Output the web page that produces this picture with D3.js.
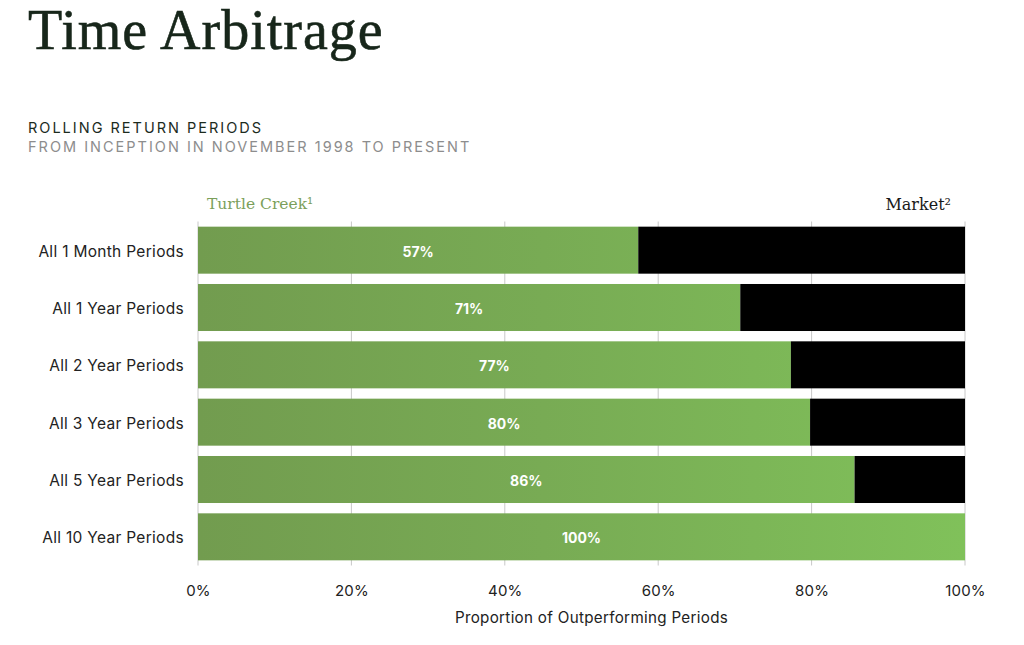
<!DOCTYPE html>
<html>
<head>
<meta charset="utf-8">
<script src="https://cdn.jsdelivr.net/npm/d3@7"></script>
<style>
  html, body { margin: 0; padding: 0; background: #fff; }
  svg { display: block; }
</style>
</head>
<body>
<svg id="chart" width="1024" height="645"></svg>
<script>
const categories = ["All 1 Month Periods", "All 1 Year Periods", "All 2 Year Periods", "All 3 Year Periods", "All 5 Year Periods", "All 10 Year Periods"];
const turtleCreek = [57.4, 70.7, 77.3, 79.8, 85.6, 100];
const market = turtleCreek.map(v => 100 - v);
const xTicks = [0, 20, 40, 60, 80, 100];

const svg = d3.select("#chart");
const margin = { left: 198, right: 1024 - 965, top: 221.5, bottom: 645 - 565.5 };

const x = d3.scaleLinear().domain([0, 100]).range([margin.left, 1024 - margin.right]);
const y = d3.scaleBand().domain(categories).range([margin.top, 645 - margin.bottom]).paddingInner(0.18).paddingOuter(0.09);

const defs = svg.append("defs");
const grad = defs.append("linearGradient").attr("id", "greenGrad")
  .attr("gradientUnits", "userSpaceOnUse")
  .attr("x1", x(0)).attr("x2", x(100)).attr("y1", 0).attr("y2", 0);
grad.append("stop").attr("offset", "0%").attr("stop-color", "#729c4f");
grad.append("stop").attr("offset", "45%").attr("stop-color", "#78ab54");
grad.append("stop").attr("offset", "100%").attr("stop-color", "#80c15a");

// Title
svg.append("text").attr("x", 28).attr("y", 49)
  .attr("font-family", "'Liberation Serif', serif").attr("font-size", 56).attr("letter-spacing", 1)
  .attr("fill", "#17261a").attr("stroke", "#17261a").attr("stroke-width", 0.6)
  .text("Time Arbitrage");

svg.append("text").attr("x", 28).attr("y", 133)
  .attr("font-family", "Inter, sans-serif").attr("font-size", 14.5).attr("letter-spacing", 2.0)
  .attr("fill", "#1c2b1e").text("ROLLING RETURN PERIODS");
svg.append("text").attr("x", 28).attr("y", 152)
  .attr("font-family", "Inter, sans-serif").attr("font-size", 14.5).attr("letter-spacing", 2.0)
  .attr("fill", "#8d8d8d").text("FROM INCEPTION IN NOVEMBER 1998 TO PRESENT");

// Series labels
svg.append("text").attr("x", 207).attr("y", 209)
  .attr("font-family", "'DejaVu Serif', serif").attr("font-size", 15.5)
  .attr("fill", "#7b9f5b").text("Turtle Creek\u00B9");
svg.append("text").attr("x", 951).attr("y", 210).attr("text-anchor", "end")
  .attr("font-family", "'DejaVu Serif', serif").attr("font-size", 16)
  .attr("fill", "#1a1a1a").text("Market\u00B2");

// Gridlines
svg.append("g").selectAll("line").data(xTicks).join("line")
  .attr("x1", d => x(d)).attr("x2", d => x(d))
  .attr("y1", margin.top).attr("y2", 645 - margin.bottom)
  .attr("stroke", "#c8c8c8").attr("stroke-width", 1);

// Bars
const rows = svg.append("g").selectAll("g").data(categories).join("g");
rows.append("rect")
  .attr("x", x(0)).attr("y", d => y(d))
  .attr("width", (d, i) => x(turtleCreek[i]) - x(0))
  .attr("height", y.bandwidth())
  .attr("fill", "url(#greenGrad)");
rows.append("rect")
  .attr("x", (d, i) => x(turtleCreek[i])).attr("y", d => y(d))
  .attr("width", (d, i) => x(turtleCreek[i] + market[i]) - x(turtleCreek[i]))
  .attr("height", y.bandwidth())
  .attr("fill", "#000");
rows.append("text")
  .attr("x", (d, i) => (x(0) + x(turtleCreek[i])) / 2)
  .attr("y", d => y(d) + y.bandwidth() / 2 + 1.5)
  .attr("dy", "0.36em").attr("text-anchor", "middle")
  .attr("font-family", "Inter, sans-serif").attr("font-size", 14).attr("font-weight", 700)
  .attr("fill", "#ffffff")
  .text((d, i) => Math.round(turtleCreek[i]) + "%");

// Y axis
const yAxis = svg.append("g").attr("transform", `translate(${x(0) - 14},1.5)`)
  .call(d3.axisLeft(y).tickSize(0).tickPadding(0));
yAxis.select(".domain").remove();
yAxis.selectAll("text").attr("font-family", "Inter, sans-serif").attr("font-size", 15.5)
  .attr("letter-spacing", 0.3).attr("fill", "#222");

// X axis
const xAxis = svg.append("g").attr("transform", `translate(0,${645 - margin.bottom})`)
  .call(d3.axisBottom(x).tickValues(xTicks).tickFormat(d => d + "%").tickSize(0).tickPadding(20));
xAxis.select(".domain").remove();
xAxis.selectAll("text").attr("font-family", "Inter, sans-serif").attr("font-size", 15)
  .attr("letter-spacing", 0.2).attr("fill", "#222");

svg.append("text").attr("x", (x(0) + x(100)) / 2 + 10).attr("y", 623).attr("text-anchor", "middle")
  .attr("font-family", "Inter, sans-serif").attr("font-size", 15.2).attr("letter-spacing", 0.3).attr("fill", "#222")
  .text("Proportion of Outperforming Periods");
</script>
</body>
</html>
